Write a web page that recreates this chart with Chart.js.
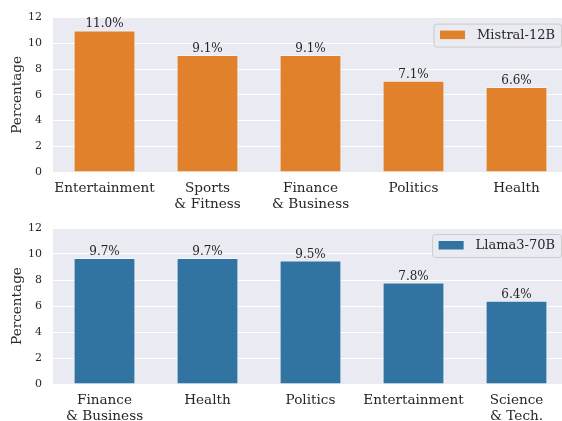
<!DOCTYPE html>
<html>
<head>
<meta charset="utf-8">
<script src="https://cdn.jsdelivr.net/npm/chart.js@4.4.0/dist/chart.umd.min.js"></script>
<style>
  html, body { margin: 0; padding: 0; background: #ffffff; overflow: hidden; }
  #wrap { width: 562px; height: 421px; overflow: hidden; position: relative; }
  canvas { display: block; }
</style>
</head>
<body>
<div id="wrap">
  <canvas id="c1" width="570" height="210"></canvas>
  <canvas id="c2" width="570" height="211"></canvas>
</div>
<script>
// ---- data ----
const topCategories = [["Entertainment"], ["Sports", "& Fitness"], ["Finance", "& Business"], ["Politics"], ["Health"]];
const topValues = [11.0, 9.1, 9.1, 7.1, 6.6];
const topLabel = "Mistral-12B";

const bottomCategories = [["Finance", "& Business"], ["Health"], ["Politics"], ["Entertainment"], ["Science", "& Tech."]];
const bottomValues = [9.7, 9.7, 9.5, 7.8, 6.4];
const bottomLabel = "Llama3-70B";

const yTicks = [0, 2, 4, 6, 8, 10, 12];

const FONT = "'DejaVu Serif', 'Liberation Serif', serif";
const TEXT = "#262626";

const bgPlugin = {
  id: 'bg',
  beforeDraw(chart) {
    const a = chart.chartArea, ctx = chart.ctx;
    ctx.save();
    ctx.fillStyle = '#EAEAF2';
    ctx.fillRect(a.left, a.top, a.right - a.left, a.bottom - a.top);
    ctx.restore();
  }
};

const valueLabelPlugin = {
  id: 'valueLabels',
  afterDatasetsDraw(chart) {
    const ctx = chart.ctx;
    const meta = chart.getDatasetMeta(0);
    const data = chart.data.datasets[0].data;
    ctx.save();
    ctx.font = "12px " + FONT;
    ctx.fillStyle = TEXT;
    ctx.textAlign = 'center';
    ctx.textBaseline = 'alphabetic';
    meta.data.forEach((bar, i) => {
      ctx.fillText(data[i].toFixed(1) + '%', bar.x, bar.y - 3);
    });
    ctx.restore();
  }
};

const legendPlugin = {
  id: 'innerLegend',
  afterDraw(chart) {
    const ctx = chart.ctx, a = chart.chartArea;
    const ds = chart.data.datasets[0];
    ctx.save();
    ctx.font = "13px " + FONT;
    const tw = ctx.measureText(ds.label).width;
    const w = 6 + 25 + 12 + tw + 6.5;
    const h = 23;
    const x = a.right - 6.5 - w;
    const y = a.top + 6.5;
    const r = 3;
    ctx.beginPath();
    ctx.moveTo(x + r, y);
    ctx.lineTo(x + w - r, y);
    ctx.quadraticCurveTo(x + w, y, x + w, y + r);
    ctx.lineTo(x + w, y + h - r);
    ctx.quadraticCurveTo(x + w, y + h, x + w - r, y + h);
    ctx.lineTo(x + r, y + h);
    ctx.quadraticCurveTo(x, y + h, x, y + h - r);
    ctx.lineTo(x, y + r);
    ctx.quadraticCurveTo(x, y, x + r, y);
    ctx.closePath();
    ctx.fillStyle = 'rgba(234,234,242,0.8)';
    ctx.fill();
    ctx.strokeStyle = '#cccccc';
    ctx.lineWidth = 1;
    ctx.stroke();
    ctx.fillStyle = ds.backgroundColor;
    ctx.fillRect(x + 6, y + 6.5, 25, 8.5);
    ctx.fillStyle = TEXT;
    ctx.textAlign = 'left';
    ctx.textBaseline = 'middle';
    ctx.fillText(ds.label, x + 6 + 25 + 12, y + h / 2);
    ctx.restore();
  }
};

function makeChart(id, cats, vals, label, color, padTop, xHeight) {
  return new Chart(document.getElementById(id), {
    type: 'bar',
    data: {
      labels: cats,
      datasets: [{
        label: label,
        data: vals,
        backgroundColor: color,
        borderColor: 'rgba(255,255,255,0.45)',
        borderWidth: 1,
        barPercentage: 0.6,
        categoryPercentage: 1.0
      }]
    },
    options: {
      responsive: false,
      animation: false,
      devicePixelRatio: 1,
      layout: { padding: { left: 0, top: padTop, right: 2, bottom: 0 } },
      plugins: { legend: { display: false }, tooltip: { enabled: false } },
      scales: {
        x: {
          offset: true,
          grid: { display: false, drawTicks: false },
          border: { display: false },
          ticks: { color: TEXT, font: { family: FONT, size: 13.6, lineHeight: 1.17 }, padding: 9, maxRotation: 0, autoSkip: false },
          afterFit(s) { s.height = xHeight; }
        },
        y: {
          min: 0, max: 12,
          afterBuildTicks(s) { s.ticks = yTicks.map(v => ({ value: v })); },
          grid: { color: '#ffffff', lineWidth: 1, drawTicks: false },
          border: { display: false },
          ticks: { color: TEXT, font: { family: FONT, size: 11 }, padding: 11 },
          title: { display: true, text: 'Percentage', color: TEXT, font: { family: FONT, size: 13.6 }, padding: { top: 9, bottom: 0 } },
          afterFit(s) { s.width = 53; }
        }
      }
    },
    plugins: [bgPlugin, valueLabelPlugin, legendPlugin]
  });
}

makeChart('c1', topCategories, topValues, topLabel, '#E1812C', 16, 38);
makeChart('c2', bottomCategories, bottomValues, bottomLabel, '#3274A1', 18, 37);
</script>
</body>
</html>
